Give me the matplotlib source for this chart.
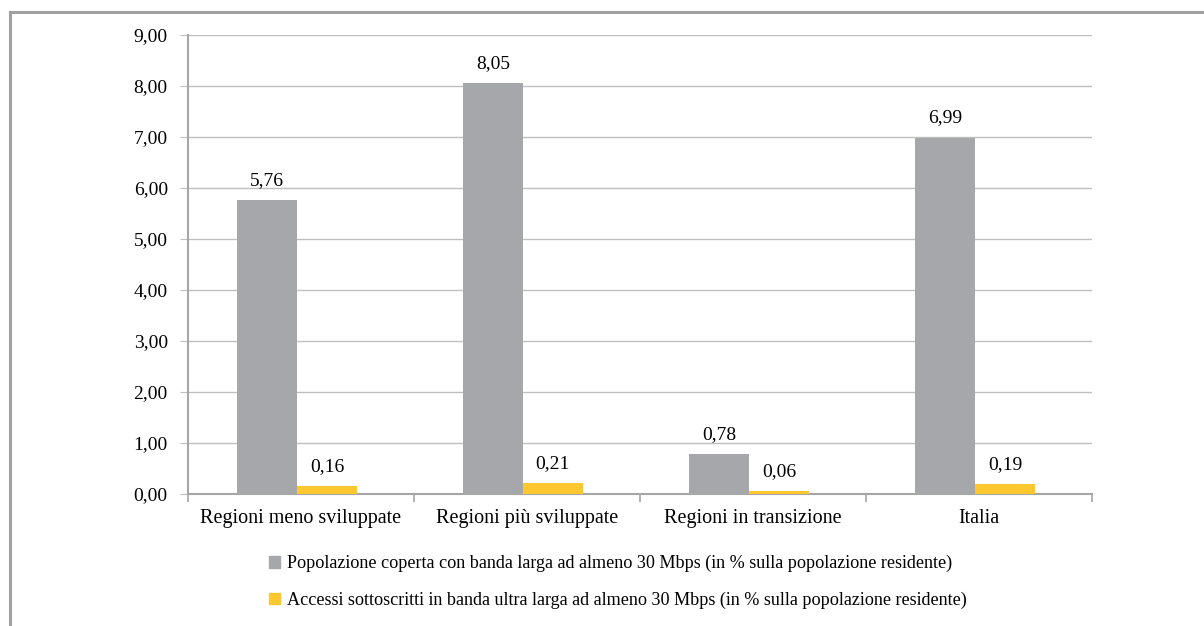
import numpy as np
from matplotlib import pyplot as plt
from matplotlib.lines import Line2D
from matplotlib.patches import Rectangle

categories = ["Regioni meno sviluppate", "Regioni più sviluppate", "Regioni in transizione", "Italia"]
coperta = [5.76, 8.05, 0.78, 6.99]
accessi = [0.16, 0.21, 0.06, 0.19]
labels_coperta = ["5,76", "8,05", "0,78", "6,99"]
labels_accessi = ["0,16", "0,21", "0,06", "0,19"]
legend_labels = ["Popolazione coperta con banda larga ad almeno 30 Mbps (in % sulla popolazione residente)",
                 "Accessi sottoscritti in banda ultra larga ad almeno 30 Mbps (in % sulla popolazione residente)"]
yticks = [0, 1, 2, 3, 4, 5, 6, 7, 8, 9]

grey = "#A6A7AB"
yellow = "#FDC82F"
axis_grey = "#A6A6A6"

plt.rcParams['font.family'] = ['Liberation Serif', 'DejaVu Serif']

fig = plt.figure(figsize=(12.04, 6.26), dpi=100)
ax = fig.add_axes([188 / 1204, 132 / 626, (1092 - 188) / 1204, (494 - 35) / 626])

x = np.arange(len(categories)) - 0.018
w = 0.265
b1 = ax.bar(x - w / 2, coperta, w, color=grey, zorder=3)
b2 = ax.bar(x + w / 2, accessi, w, color=yellow, zorder=3)

for rect, lab in zip(b1, labels_coperta):
    ax.annotate(lab, (rect.get_x() + rect.get_width() / 2, rect.get_height()), xytext=(0, 8),
                textcoords="offset points", ha="center", va="bottom", fontsize=14)
for rect, lab in zip(b2, labels_accessi):
    ax.annotate(lab, (rect.get_x() + rect.get_width() / 2, rect.get_height()), xytext=(0, 8),
                textcoords="offset points", ha="center", va="bottom", fontsize=14)

ax.set_xlim(-0.5, len(categories) - 0.5)
ax.set_ylim(0, 9)
ax.set_yticks(yticks)
ax.set_yticklabels(["%d,00" % v for v in yticks], fontsize=14)
ax.yaxis.grid(True, color="#BFBFBF", linewidth=1.0, zorder=0)
ax.tick_params(axis="y", length=6, color="#BFBFBF", pad=8.5)

ax.set_xticks(np.arange(len(categories)))
ax.set_xticklabels(categories, fontsize=14.5)
ax.tick_params(axis="x", length=0, pad=11)
ax.set_xticks(np.arange(-0.5, len(categories)), minor=True)
ax.tick_params(axis="x", which="minor", length=6, color=axis_grey, width=1.2)

for s in ["top", "right"]:
    ax.spines[s].set_visible(False)
for s in ["left", "bottom"]:
    ax.spines[s].set_color(axis_grey)
    ax.spines[s].set_linewidth(1.5)

handles = [Rectangle((0, 0), 1, 1, color=grey), Rectangle((0, 0), 1, 1, color=yellow)]
fig.legend(handles, legend_labels, loc="center", bbox_to_anchor=(618 / 1204, 1 - 582 / 626), ncol=1,
           frameon=False, fontsize=13.1, handlelength=0.6, handleheight=0.6, handletextpad=0.4,
           labelspacing=1.05)

# outer frame (top and left only visible)
fig.add_artist(Line2D([10 / 1204, 1], [1 - 12 / 626, 1 - 12 / 626], color="#A0A0A0", linewidth=2.2))
fig.add_artist(Line2D([10 / 1204, 10 / 1204], [0, 1 - 12 / 626], color="#A0A0A0", linewidth=2.2))

fig.savefig("out.png", dpi=100)
